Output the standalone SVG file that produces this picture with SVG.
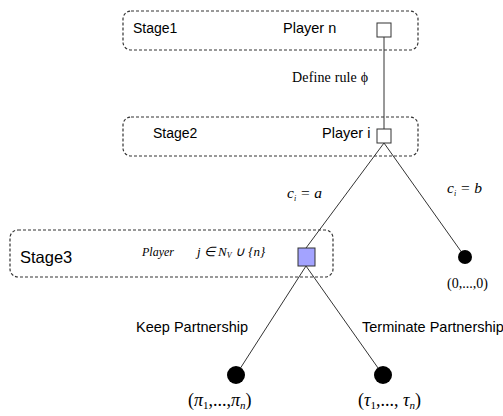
<svg xmlns="http://www.w3.org/2000/svg" width="503" height="416" viewBox="0 0 503 416">
<style>
.stage{fill:none;stroke:#333;stroke-width:1.2;stroke-dasharray:3,2}
.edge{stroke:#333;stroke-width:1;fill:none}
.sans{font-family:"Liberation Sans",Arial,sans-serif;fill:#000}
.serif{font-family:"Liberation Serif","Times New Roman",serif;fill:#000}
.it{font-style:italic}
.leaf{fill:#000}
.dec{fill:#fff;stroke:#333;stroke-width:1}
</style>
<rect width="503" height="416" fill="#fff"/>
<g id="stage1"><rect class="stage" x="123" y="11" width="295" height="39" rx="8"/><text class="sans" x="133" y="33" font-size="14">Stage1</text><text class="sans" x="283" y="33" font-size="14.5">Player n</text></g>
<g id="stage2"><rect class="stage" x="123" y="117" width="295" height="39" rx="8"/><text class="sans" x="153" y="138" font-size="14">Stage2</text><text class="sans" x="322" y="138" font-size="14.5">Player i</text></g>
<g id="stage3"><rect class="stage" x="10" y="230" width="323" height="47" rx="8"/><text class="sans" x="20" y="263" font-size="16.5">Stage3</text><text class="serif it" x="142" y="256" font-size="12">Player</text><text class="serif it" x="197" y="256" font-size="13">j ∈ N<tspan font-size="8" dy="2">V</tspan><tspan dy="-2"> ∪ {n}</tspan></text></g>
<g id="connectors">
<line class="edge" x1="384" y1="37" x2="384" y2="129"/>
<line class="edge" x1="384" y1="143" x2="306" y2="248"/>
<line class="edge" x1="384" y1="143" x2="465" y2="257"/>
<line class="edge" x1="306" y1="266" x2="236" y2="375"/>
<line class="edge" x1="306" y1="266" x2="383" y2="375"/>
<text class="serif" x="292" y="82" font-size="14" textLength="76">Define rule ϕ</text>
<text class="serif it" x="287" y="198" font-size="15.5">c<tspan font-size="8" dy="3">i</tspan><tspan dy="-3"> = a</tspan></text>
<text class="serif it" x="447" y="193" font-size="15.5">c<tspan font-size="8" dy="3">i</tspan><tspan dy="-3"> = b</tspan></text>
<text class="sans" x="136" y="332" font-size="14.5">Keep Partnership</text>
<text class="sans" x="362" y="332" font-size="14.5">Terminate Partnership</text>
</g>
<g id="n1"><rect class="dec" x="377" y="23" width="14" height="14"/></g>
<g id="n2"><rect class="dec" x="377" y="129" width="14" height="14"/></g>
<g id="n3"><rect x="298" y="248" width="17" height="18" fill="#a3a3ff" stroke="#333" stroke-width="1"/></g>
<g id="leaf0"><circle class="leaf" cx="465" cy="257" r="7"/><text class="serif" x="447" y="288" font-size="14">(0,...,0)</text></g>
<g id="leafpi"><circle class="leaf" cx="236" cy="375" r="9"/><text class="serif" x="188" y="406" font-size="18">(<tspan class="it">π</tspan><tspan font-size="11" dy="3">1</tspan><tspan dy="-3">,...,</tspan><tspan class="it">π</tspan><tspan class="it" font-size="11" dy="3">n</tspan><tspan dy="-3">)</tspan></text></g>
<g id="leaftau"><circle class="leaf" cx="383" cy="375" r="9"/><text class="serif" x="358" y="406" font-size="18">(<tspan class="it">τ</tspan><tspan font-size="11" dy="3">1</tspan><tspan dy="-3">,..., </tspan><tspan class="it">τ</tspan><tspan class="it" font-size="11" dy="3">n</tspan><tspan dy="-3">)</tspan></text></g>
</svg>
